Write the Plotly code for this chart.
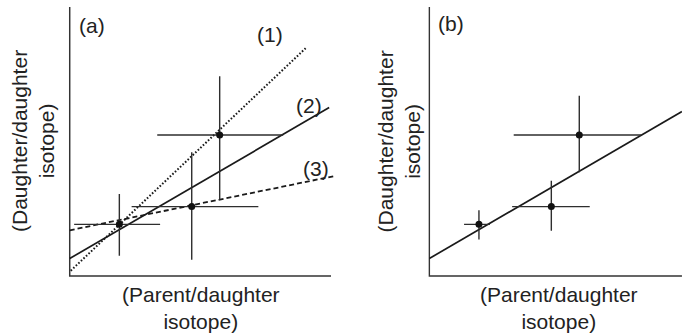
import plotly.graph_objects as go

W, H = 682, 333
FONT = "Liberation Sans, Arial, Helvetica, sans-serif"
INK = "#1a1a1a"
BAR = "#2e2e2e"

# --- measured isotope ratios (same three samples in both panels) ---
parent_ratio = [1.90, 4.67, 5.74]
daughter_ratio = [1.92, 2.58, 5.24]

# panel (a): large analytical uncertainties
a_xerr_minus = [1.73, 2.30, 2.39]
a_xerr_plus = [1.56, 2.55, 2.43]
a_yerr_minus = [1.17, 1.98, 2.40]
a_yerr_plus = [1.13, 2.02, 2.19]

# panel (b): improved precision
b_xerr_minus = [0.57, 1.50, 2.51]
b_xerr_plus = [0.42, 1.47, 2.36]
b_yerr_minus = [0.56, 0.90, 1.38]
b_yerr_plus = [0.52, 0.96, 1.46]

# --- candidate isochrons through panel (a) ---
fit_labels = ["(1)", "(2)", "(3)"]
fit_intercepts = [0.16, 0.65, 1.70]
fit_slopes = [0.92, 0.565, 0.199]
fit_x_start = [0.04, 0.0, 0.0]
fit_x_end = [9.03, 9.93, 10.19]
fit_dash = ["1.6px,1.9px", "solid", "5px,3px"]
fit_width = [2.0, 1.7, 1.8]
fit_label_x = [7.67, 9.16, 9.41]
fit_label_y = [8.96, 6.32, 3.98]

# axis extents (data units)
a_x_max, b_x_max, y_max = 10.0, 9.67, 10.0

# --- layout geometry: pixels per data unit and axis origins ---
PX_X, PX_Y = 26.13, 26.9
ORIGIN_Y_PX = 276.0
PAD = 0.04


def x_domain(origin_px, lo, hi):
    return [(origin_px + lo * PX_X) / W, (origin_px + hi * PX_X) / W]


y_lo, y_hi = -PAD, y_max
y_dom = [(H - (ORIGIN_Y_PX - y_lo * PX_Y)) / H, (H - (ORIGIN_Y_PX - y_hi * PX_Y)) / H]

a_range = [-PAD, 10.35]
b_range = [-PAD, b_x_max]

fig = go.Figure()


def line_y(i, x):
    return fit_intercepts[i] + fit_slopes[i] * x


def add_axes_frame(xa, ya, x_end):
    fig.add_trace(go.Scatter(
        x=[0, 0, x_end], y=[y_max, 0, 0], mode="lines",
        line=dict(color="#333333", width=1.5),
        xaxis=xa, yaxis=ya, showlegend=False, hoverinfo="skip"))


def add_points(xa, ya, xm, xp, ym, yp):
    fig.add_trace(go.Scatter(
        x=parent_ratio, y=daughter_ratio, mode="markers",
        marker=dict(color="#111111", size=7),
        error_x=dict(type="data", symmetric=False, array=xp, arrayminus=xm,
                     width=0, thickness=1.4, color=BAR),
        error_y=dict(type="data", symmetric=False, array=yp, arrayminus=ym,
                     width=0, thickness=1.4, color=BAR),
        xaxis=xa, yaxis=ya, showlegend=False, hoverinfo="skip"))


# panel (a)
add_axes_frame("x", "y", a_x_max)
for i in range(3):
    xs = [fit_x_start[i], fit_x_end[i]]
    fig.add_trace(go.Scatter(
        x=xs, y=[line_y(i, v) for v in xs], mode="lines",
        line=dict(color=INK, width=fit_width[i], dash=fit_dash[i]),
        xaxis="x", yaxis="y", showlegend=False, hoverinfo="skip"))
add_points("x", "y", a_xerr_minus, a_xerr_plus, a_yerr_minus, a_yerr_plus)

# panel (b): the best-fit isochron (2)
add_axes_frame("x2", "y2", b_x_max)
fig.add_trace(go.Scatter(
    x=[0.0, b_x_max], y=[line_y(1, 0.0), line_y(1, b_x_max)], mode="lines",
    line=dict(color=INK, width=1.7),
    xaxis="x2", yaxis="y2", showlegend=False, hoverinfo="skip"))
add_points("x2", "y2", b_xerr_minus, b_xerr_plus, b_yerr_minus, b_yerr_plus)

hidden = dict(showgrid=False, zeroline=False, showticklabels=False,
              ticks="", showline=False, fixedrange=True)

fig.update_layout(
    width=W, height=H,
    margin=dict(l=0, r=0, t=0, b=0),
    paper_bgcolor="white", plot_bgcolor="white",
    font=dict(family=FONT, size=21, color="#222222"),
    xaxis=dict(domain=x_domain(69.7, *a_range), range=a_range, anchor="y", **hidden),
    yaxis=dict(domain=y_dom, range=[y_lo, y_hi], anchor="x", **hidden),
    xaxis2=dict(domain=x_domain(429.3, *b_range), range=b_range, anchor="y2", **hidden),
    yaxis2=dict(domain=y_dom, range=[y_lo, y_hi], anchor="x2", **hidden),
)

txt = dict(family=FONT, size=21, color="#222222")
ann = []
# panel letters
ann.append(dict(text="(a)", x=0.85, y=9.33, xref="x", yref="y",
                showarrow=False, font=txt, xanchor="center", yanchor="middle"))
ann.append(dict(text="(b)", x=0.83, y=9.37, xref="x2", yref="y2",
                showarrow=False, font=txt, xanchor="center", yanchor="middle"))
# isochron labels
for lab, lx, ly in zip(fit_labels, fit_label_x, fit_label_y):
    ann.append(dict(text=lab, x=lx, y=ly, xref="x", yref="y", showarrow=False,
                    font=txt, xanchor="center", yanchor="middle"))

# axis titles
x_title = "(Parent/daughter<br>isotope)"
y_title = "(Daughter/daughter<br>isotope)"
for cx in (200.5, 559.0):
    ann.append(dict(text=x_title, x=cx / W, y=(H - 307.5) / H, xref="paper", yref="paper",
                    showarrow=False, font=txt, xanchor="center", yanchor="middle"))
for cx in (32.5, 398.0):
    ann.append(dict(text=y_title, x=cx / W, y=(H - 141.5) / H, xref="paper", yref="paper",
                    showarrow=False, font=txt, textangle=-90,
                    xanchor="center", yanchor="middle"))

fig.update_layout(annotations=ann)

fig.write_html("out.html", config={"displayModeBar": False, "staticPlot": True})
